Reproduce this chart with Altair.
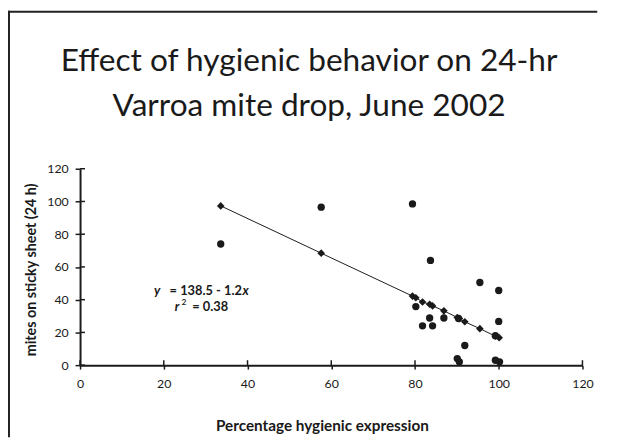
import altair as alt
import pandas as pd

# ---- data ----
obs_x = [33.6, 57.6, 79.4, 83.7, 95.5, 100.0, 80.2, 81.8, 83.5, 84.2, 86.9, 90.4,
         91.9, 90.1, 90.6, 99.2, 100.2, 100.0, 99.2]
obs_y = [74.0, 96.5, 98.5, 64.0, 50.5, 45.6, 35.8, 24.0, 28.8, 24.0, 28.8, 28.5,
         12.0, 4.0, 2.0, 3.0, 2.0, 26.7, 18.0]

fit_x = [33.6, 57.6, 79.4, 80.2, 81.8, 83.5, 84.2, 86.9, 90.1, 90.6, 91.9, 95.5, 99.2, 100.1]
fit_y = [97.3, 68.4, 42.2, 41.2, 38.6, 37.2, 36.2, 33.2, 29.1, 28.5, 26.5, 22.3, 17.7, 16.8]

x_ticks = [0, 20, 40, 60, 80, 100, 120]
y_ticks = [0, 20, 40, 60, 80, 100, 120]

title_lines = ["Effect of hygienic behavior on 24-hr", "Varroa mite drop, June 2002"]
x_title = "Percentage hygienic expression"
y_title = "mites on sticky sheet (24 h)"
eq_parts = ["y", "= 138.5 - 1.2", "x"]
r2_parts = ["r", "2", "= 0.38"]

# ---- layout ----
W, H = 509, 199
PAD = {"left": 73, "top": 160, "right": 35, "bottom": 73}
FONT = "Lato"
INK = "#1a1a1a"

obs = pd.DataFrame({"x": obs_x, "y": obs_y})
fit = pd.DataFrame({"x": fit_x, "y": fit_y})
xt = pd.DataFrame({"x": x_ticks})
yt = pd.DataFrame({"y": y_ticks})
one = pd.DataFrame({"k": [0]})

xscale = alt.Scale(domain=[0, 120], nice=False, zero=False)
yscale = alt.Scale(domain=[0, 120], nice=False, zero=False)

x_axis = alt.Axis(values=x_ticks, title=x_title, grid=False, tickSize=4, labelPadding=9,
                  titleX=245, titleY=66, titleAlign="center", titleBaseline="alphabetic",
                  titleFontSize=15.5, labelFlush=False, labelOverlap=False)
y_axis = alt.Axis(values=y_ticks, title=y_title, grid=False, tickSize=5, labelPadding=7,
                  titleX=-49, titleY=102, titleAngle=-90, titleAlign="center",
                  titleBaseline="middle", titleFontSize=14.5,
                  labelFlush=False, labelOverlap=False)

X = alt.X("x:Q", scale=xscale, axis=x_axis)
Y = alt.Y("y:Q", scale=yscale, axis=y_axis)

points = alt.Chart(obs).mark_circle(size=55, color=INK, opacity=1).encode(x=X, y=Y)

line = alt.Chart(fit).mark_line(color=INK, strokeWidth=1).encode(x=X, y=Y, order="x:Q")

diamonds = alt.Chart(fit).mark_point(shape="diamond", filled=True, size=60, color=INK,
                                     opacity=1).encode(x=X, y=Y)

# inner halves of the crossing ticks
xin = alt.Chart(xt).mark_rule(color=INK, strokeWidth=1.5).encode(
    x=X, y=alt.value(H), y2=alt.value(H - 5),
)
yin = alt.Chart(yt).mark_rule(color=INK, strokeWidth=1.5).encode(
    y=Y, x=alt.value(0), x2=alt.value(5),
)

def txt(s, x, y, size, align="left", weight="normal", style="normal"):
    return alt.Chart(pd.DataFrame({"t": [s]})).mark_text(
        font=FONT, fontSize=size, align=align, baseline="alphabetic",
        fontWeight=weight, fontStyle=style, color=INK,
    ).encode(x=alt.value(x), y=alt.value(y), text="t:N")

title1 = txt(title_lines[0], 232, -99, 32, align="center")
title2 = txt(title_lines[1], 232, -53, 32, align="center")

eq_y = 128
eq = [
    txt(eq_parts[0], 75, eq_y, 13, "left", "bold", "italic"),
    txt(eq_parts[1], 164, eq_y, 13, "right", "bold"),
    txt(eq_parts[2], 164.5, eq_y, 13, "left", "bold", "italic"),
]
r2_y = 144
r2 = [
    txt(r2_parts[0], 96, r2_y, 13, "left", "bold", "italic"),
    txt(r2_parts[1], 103, r2_y - 6, 8, "left", "bold"),
    txt(r2_parts[2], 150, r2_y, 13, "right", "bold"),
]

border_top = alt.Chart(one).mark_rule(color="#222", strokeWidth=2).encode(
    x=alt.value(-PAD["left"]), x2=alt.value(W + PAD["right"] - 20), y=alt.value(-PAD["top"] + 1),
)
border_left = alt.Chart(one).mark_rule(color="#222", strokeWidth=2).encode(
    x=alt.value(-PAD["left"] + 1), y=alt.value(-PAD["top"]), y2=alt.value(H + PAD["bottom"]),
)

chart = alt.layer(
    points, line, diamonds, xin, yin, title1, title2, *eq, *r2, border_top, border_left
).properties(
    width=W, height=H,
    autosize=alt.AutoSizeParams(type="none"),
    padding=PAD,
    background="white",
).configure_view(stroke=None).configure_axis(
    domainColor=INK, domainWidth=2, tickColor=INK, tickWidth=1.5,
    labelFont=FONT, labelFontSize=12.5, labelColor=INK,
    titleFont=FONT, titleFontWeight="bold", titleColor=INK,
)

chart.save("out.html", embed_options={"renderer": "svg", "actions": False})
